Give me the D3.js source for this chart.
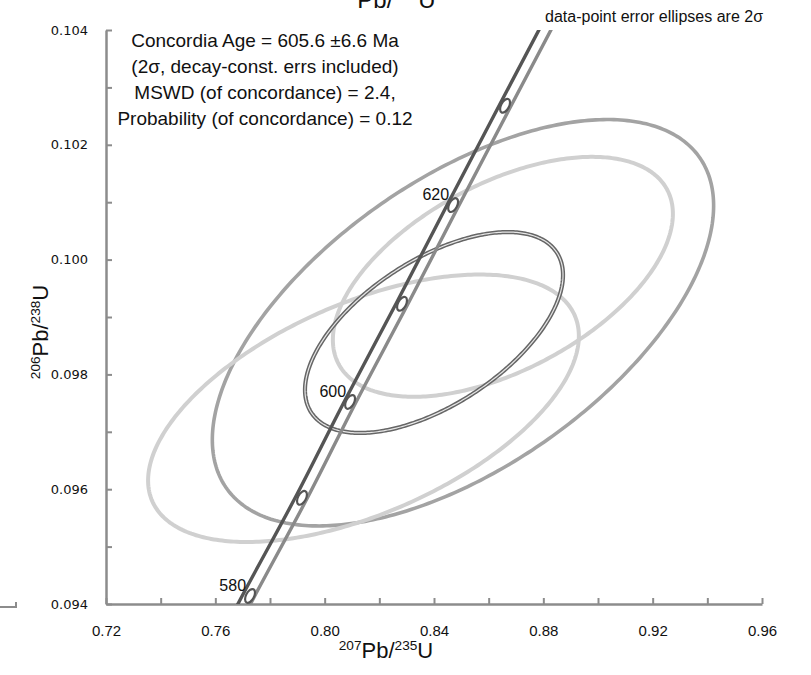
<!DOCTYPE html>
<html><head><meta charset="utf-8">
<script src="https://cdn.jsdelivr.net/npm/d3@7"></script>
<style>body{margin:0;background:#fff}svg{display:block}</style>
</head><body><div id="c"></div>
<script>
// ---- data ----
const xTicks = [0.72,0.76,0.80,0.84,0.88,0.92,0.96];
const xMinor = [0.74,0.78,0.82,0.86,0.90,0.94];
const yTicks = [0.094,0.096,0.098,0.100,0.102,0.104];
const yMinor = [0.095,0.097,0.099,0.101,0.103];
// concordia age markers (Ma) and positions
const ages      = [570,580,590,600,610,620,630,640];
const concX     = [0.7537,0.7727,0.7917,0.8093,0.8283,0.8470,0.8660,0.8850];
const concY     = [0.09242,0.09414,0.09585,0.09752,0.09923,0.10095,0.10268,0.10440];
const bandLoX   = [0.7508,0.7698,0.7892,0.8071,0.8261,0.8448,0.8638,0.8828];
const bandHiX   = [0.7554,0.7744,0.7937,0.8115,0.8305,0.8492,0.8682,0.8872];
const markerAges = [580,590,600,610,620,630];
const labelAges  = [580,600,620];
// data-point error ellipses (2 sigma half-extents, correlation)
const ellName = ["big","upper","lower","double"];
const ellX    = [0.8506,0.8652,0.8142,0.8400];
const ellY    = [0.09890,0.09970,0.09741,0.09873];
const ellEX   = [0.0917,0.0622,0.0788,0.0472];
const ellEY   = [0.00354,0.00209,0.00233,0.00175];
const ellRho  = [0.576,0.525,0.54,0.572];
const textLines = ["Concordia Age = 605.6 \u00b16.6 Ma","(2\u03c3, decay-const. errs included)","MSWD (of concordance) = 2.4,","Probability (of concordance) = 0.12"];

// ---- layout ----
const W=811,H=675;
const L=106,R=762,T=30,B=604;
const x=d3.scaleLinear().domain([0.72,0.96]).range([L,R]);
const y=d3.scaleLinear().domain([0.094,0.104]).range([B,T]);
const svg=d3.select("#c").append("svg").attr("width",W).attr("height",H);
svg.append("defs").append("clipPath").attr("id","clip").append("rect").attr("x",L).attr("y",T).attr("width",R-L+2).attr("height",B-T);

const axisCol="#8c8c8c";
// y axis
const ya=svg.append("g").attr("transform",`translate(${L},0)`)
  .call(d3.axisLeft(y).tickValues(yTicks).tickFormat(d3.format(".3f")).tickSizeInner(-6).tickSizeOuter(0).tickPadding(18));
ya.select(".domain").attr("stroke",axisCol).attr("stroke-width",2.5);
ya.selectAll(".tick line").attr("stroke",axisCol).attr("stroke-width",2);
ya.selectAll("text").attr("font-family","DejaVu Sans, sans-serif").attr("font-size",13).attr("fill","#111");
svg.append("g").attr("transform",`translate(${L},0)`)
  .call(d3.axisLeft(y).tickValues(yMinor).tickFormat("").tickSizeInner(-6).tickSizeOuter(0))
  .call(g=>{g.select(".domain").remove();g.selectAll("line").attr("stroke",axisCol).attr("stroke-width",2);});
// x axis
const xa=svg.append("g").attr("transform",`translate(0,${B})`)
  .call(d3.axisBottom(x).tickValues(xTicks).tickFormat(d3.format(".2f")).tickSizeInner(-6).tickSizeOuter(0).tickPadding(21));
xa.select(".domain").attr("stroke",axisCol).attr("stroke-width",2.5);
xa.selectAll(".tick line").attr("stroke",axisCol).attr("stroke-width",2);
xa.selectAll("text").attr("font-family","Liberation Sans Narrow, Liberation Sans, sans-serif").attr("font-size",15).attr("fill","#111");
svg.append("g").attr("transform",`translate(0,${B})`)
  .call(d3.axisBottom(x).tickValues(xMinor).tickFormat("").tickSizeInner(-6).tickSizeOuter(0))
  .call(g=>{g.select(".domain").remove();g.selectAll("line").attr("stroke",axisCol).attr("stroke-width",2);});

// stray axis fragment at left edge
svg.append("path").attr("d","M0,607H16V602").attr("fill","none").attr("stroke",axisCol).attr("stroke-width",2);

// ellipses
const plot=svg.append("g").attr("clip-path","url(#clip)");
function ellPts(i){
  const pts=[];
  for(let k=0;k<=360;k++){
    const t=k*Math.PI/180;
    const ex=ellX[i]+ellEX[i]*Math.cos(t);
    const ey=ellY[i]+ellEY[i]*(ellRho[i]*Math.cos(t)+Math.sqrt(1-ellRho[i]*ellRho[i])*Math.sin(t));
    pts.push([x(ex),y(ey)]);
  }
  return pts;
}
const line=d3.line().curve(d3.curveLinearClosed);
const ellStyle={big:{c:"#a3a3a3",w:3.6},upper:{c:"#d0d0d0",w:4},lower:{c:"#d0d0d0",w:4},double:{c:"#666",w:4.2}};
ellName.forEach((n,i)=>{
  plot.append("path").attr("d",line(ellPts(i))).attr("fill","none").attr("stroke",ellStyle[n].c).attr("stroke-width",ellStyle[n].w);
  if(n==="double") plot.append("path").attr("d",line(ellPts(i))).attr("fill","none").attr("stroke","#e6e6e6").attr("stroke-width",1.2);
});

// concordia band
const cl=d3.line().curve(d3.curveMonotoneY);
plot.append("path").attr("d",cl(ages.map((a,i)=>[x(bandHiX[i]),y(concY[i])]))).attr("fill","none").attr("stroke","#8a8a8a").attr("stroke-width",3.4);
plot.append("path").attr("d",cl(ages.map((a,i)=>[x(bandLoX[i]),y(concY[i])]))).attr("fill","none").attr("stroke","#555").attr("stroke-width",3.4);
// age markers
const ang=Math.atan2(y(concY[7])-y(concY[0]),x(concX[7])-x(concX[0]))*180/Math.PI;
markerAges.forEach(a=>{
  const i=ages.indexOf(a);
  plot.append("ellipse").attr("cx",x(concX[i])).attr("cy",y(concY[i])).attr("rx",7.5).attr("ry",4)
    .attr("transform",`rotate(${ang},${x(concX[i])},${y(concY[i])})`)
    .attr("fill","#fff").attr("stroke","#555").attr("stroke-width",2.2);
});
labelAges.forEach(a=>{
  const i=ages.indexOf(a);
  svg.append("text").attr("x",x(concX[i])-4).attr("y",y(concY[i])-5).attr("text-anchor","end")
    .attr("font-family","Liberation Sans, Arial, sans-serif").attr("font-size",16).attr("fill","#111").text(a);
});

// text box
textLines.forEach((t,i)=>{
  svg.append("text").attr("x",265).attr("y",47+i*26).attr("text-anchor","middle")
    .attr("font-family","Liberation Sans, Arial, sans-serif").attr("font-size",19).attr("fill","#111").text(t);
});
svg.append("text").attr("x",763).attr("y",22).attr("text-anchor","end")
  .attr("font-family","Liberation Sans, Arial, sans-serif").attr("font-size",16).attr("fill","#111")
  .text("data-point error ellipses are 2\u03c3");

// axis titles
function iso(g,a,b,c,d,size){
  const t=g.append("text").attr("font-family","Liberation Sans, Arial, sans-serif").attr("fill","#111").attr("font-size",size);
  t.append("tspan").attr("font-size",size*0.62).attr("dy",-size*0.38).text(a);
  t.append("tspan").attr("dy",size*0.38).text(b);
  t.append("tspan").attr("font-size",size*0.62).attr("dy",-size*0.38).text(c);
  t.append("tspan").attr("dy",size*0.38).text(d);
  return t;
}
iso(svg,"207","Pb/","235","U",22).attr("x",386).attr("y",658).attr("text-anchor","middle");
iso(svg.append("g").attr("transform","translate(48,332) rotate(-90)"),"206","Pb/","238","U",22).attr("x",0).attr("y",0).attr("text-anchor","middle");
iso(svg,"206","Pb/","238","U",24).attr("x",384).attr("y",8).attr("text-anchor","middle");
</script></body></html>
